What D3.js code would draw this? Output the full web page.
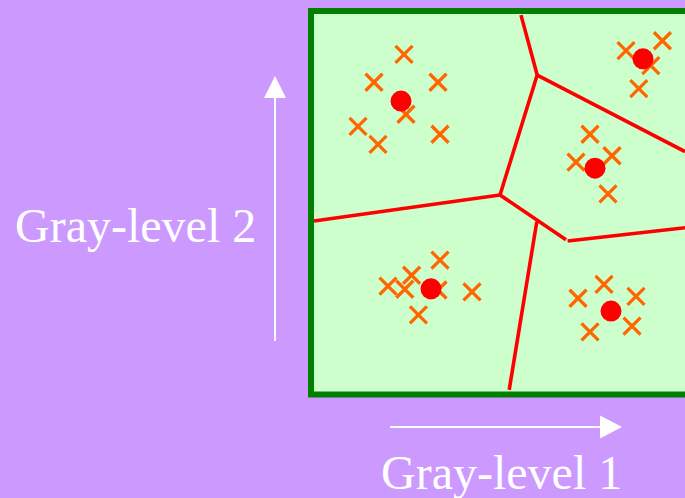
<!DOCTYPE html>
<html>
<head>
<meta charset="utf-8">
<style>
  html, body { margin: 0; padding: 0; background: #cc99ff; }
  svg { display: block; }
  .label { font-family: "Liberation Serif", "Times New Roman", serif; fill: #ffffff; }
</style>
<script src="https://cdn.jsdelivr.net/npm/d3@7"></script>
</head>
<body>
<svg id="plano" width="685" height="498"></svg>
<script>
"use strict"
/*
 * Nearest-centroid partition of a 2-D gray-level feature space
 * Samples (x), cluster centres (dots) and the decision borders between them */

// Cluster centres, in gray-level units (0..100 on each axis)
var centroX = [21.75, 82.25, 70.25, 29.25, 74.25],
    centroY = [76.9, 88.1, 59.1, 27.1, 21.2];

// Samples, one per cross
var amostraX = [22.5, 15, 31, 23, 11, 16, 31.5,      // cluster A
                78, 87.1, 84.2, 81.2,                // cluster B
                69, 65.5, 74.5, 73.5,                // cluster C
                31.5, 24.4, 18.5, 22.7, 31, 39.5, 26.1, // cluster D
                72.5, 66, 80.5, 69, 79.5],           // cluster E
    amostraY = [89.3, 81.9, 81.9, 73.4, 70.2, 65.4, 68.1,
                90.3, 92.9, 86.3, 80.2,
                68.1, 60.7, 62.4, 52.3,
                34.7, 30.7, 27.8, 27.0, 26.8, 26.3, 20.2,
                28.3, 24.6, 25.1, 15.7, 17.2];

// Decision borders, each one a segment [x0, y0, x1, y1]
var fronteiras = [
  [51.75, 99.7, 55.8, 83.8],
  [55.8, 83.8, 92.75, 63.5],
  [55.8, 83.8, 46.5, 52.0],
  [46.5, 52.0, 0, 45.1],
  [46.5, 52.0, 63, 40.1],
  [63.4, 39.8, 92.75, 43.3],
  [55.7, 44.9, 48.8, 0.3]
];

var eixoTexto = ["Gray-level 1", "Gray-level 2"];

var svg = d3.select("svg#plano"),
    x = d3.scaleLinear().domain([0, 100]).range([314, 714]),
    y = d3.scaleLinear().domain([0, 100]).range([391, 14]),
    tam = 8.5;                       // half size of a cross

// Light green field, its dark green frame is drawn over the borders
svg.append("rect")
    .attr("x", x(0) - 3).attr("y", y(100) - 3)
    .attr("width", 420).attr("height", y(0) - y(100) + 6.5)
    .attr("fill", "#ccffcc");

svg.append("g")
    .attr("class", "fronteiras")
  .selectAll("line")
    .data(fronteiras)
  .enter().append("line")
    .attr("x1", function(d) { return x(d[0]); })
    .attr("y1", function(d) { return y(d[1]); })
    .attr("x2", function(d) { return x(d[2]); })
    .attr("y2", function(d) { return y(d[3]); })
    .attr("stroke", "#ff0000")
    .attr("stroke-width", 3.6);

svg.append("rect")
    .attr("x", x(0) - 3).attr("y", y(100) - 3)
    .attr("width", 420).attr("height", y(0) - y(100) + 6.5)
    .attr("fill", "none")
    .attr("stroke", "#007f00")
    .attr("stroke-width", 6);

// Samples as crosses
svg.append("g")
    .attr("class", "amostras")
  .selectAll("path")
    .data(d3.range(amostraX.length))
  .enter().append("path")
    .attr("transform", function(i) { return "translate(" + x(amostraX[i]) + "," + y(amostraY[i]) + ")"; })
    .attr("d", "M" + (-tam) + "," + (-tam) + "L" + tam + "," + tam + "M" + (-tam) + "," + tam + "L" + tam + "," + (-tam))
    .attr("stroke", "#ff6600")
    .attr("stroke-width", 3.3)
    .attr("fill", "none");

// Centres on top of the samples
svg.append("g")
    .attr("class", "centros")
  .selectAll("circle")
    .data(d3.range(centroX.length))
  .enter().append("circle")
    .attr("cx", function(i) { return x(centroX[i]); })
    .attr("cy", function(i) { return y(centroY[i]); })
    .attr("r", 10.5)
    .attr("fill", "#ff0000");

// Axis arrows
svg.append("line")
    .attr("x1", 275).attr("y1", 341).attr("x2", 275).attr("y2", 97)
    .attr("stroke", "#ffffff").attr("stroke-width", 2);
svg.append("path")
    .attr("d", "M264,98L286,98L275,76Z")
    .attr("fill", "#ffffff");

svg.append("line")
    .attr("x1", 390).attr("y1", 427).attr("x2", 601).attr("y2", 427)
    .attr("stroke", "#ffffff").attr("stroke-width", 2);
svg.append("path")
    .attr("d", "M600,415.5L600,438.5L622,427Z")
    .attr("fill", "#ffffff");

// Axis names
svg.append("text")
    .attr("class", "label")
    .attr("x", 381).attr("y", 489)
    .style("font-size", "48px")
    .text(eixoTexto[0]);

svg.append("text")
    .attr("class", "label")
    .attr("x", 15).attr("y", 242)
    .style("font-size", "48px")
    .text(eixoTexto[1]);
</script>
</body>
</html>
